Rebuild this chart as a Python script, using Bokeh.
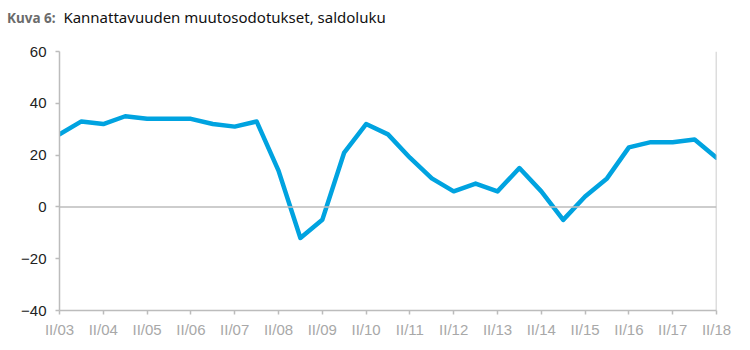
from bokeh.plotting import figure
from bokeh.models import Span, FixedTicker, Range1d, Div
from bokeh.layouts import column
from bokeh.embed import file_html
from bokeh.resources import INLINE

# Half-year periods from II/03 to II/18
periods = ["II/03", "I/04", "II/04", "I/05", "II/05", "I/06", "II/06", "I/07", "II/07", "I/08",
           "II/08", "I/09", "II/09", "I/10", "II/10", "I/11", "II/11", "I/12", "II/12", "I/13",
           "II/13", "I/14", "II/14", "I/15", "II/15", "I/16", "II/16", "I/17", "II/17", "I/18", "II/18"]
values = [28, 33, 32, 35, 34, 34, 34, 32, 31, 33,
          14, -12, -5, 21, 32, 28, 19, 11, 6, 9,
          6, 15, 6, -5, 4, 11, 23, 25, 25, 26, 19]
y_ticks = [-40, -20, 0, 20, 40, 60]
y_tick_labels = ["\u221240", "\u221220", "0", "20", "40", "60"]
title_prefix = "Kuva 6:"
title_text = "Kannattavuuden muutosodotukset, saldoluku"

xs = list(range(len(periods)))
x_tick_idx = [i for i, p in enumerate(periods) if p.startswith("II/")]

p = figure(width=750, height=316, output_backend="svg", toolbar_location=None,
           x_range=Range1d(0, len(periods) - 1), y_range=Range1d(-40, 60),
           min_border_left=59, min_border_right=34, min_border_top=17, min_border_bottom=40)
p.outline_line_color = None
p.xgrid.grid_line_color = None
p.ygrid.grid_line_color = None
p.background_fill_color = "white"
p.border_fill_color = "white"

axis_gray = "#bcbcbc"
for ax in (p.xaxis[0], p.yaxis[0]):
    ax.axis_line_color = axis_gray
    ax.axis_line_width = 1.5
    ax.major_tick_line_color = axis_gray
    ax.major_tick_line_width = 1.5
    ax.minor_tick_line_color = None
    ax.major_tick_in = 0
    ax.major_tick_out = 4
    ax.major_label_text_font = "Liberation Sans"
    ax.major_label_text_font_size = "15px"

p.xaxis.ticker = FixedTicker(ticks=x_tick_idx)
p.xaxis.major_label_overrides = {i: periods[i] for i in x_tick_idx}
p.xaxis.major_label_text_color = "#a8a8a8"
p.xaxis.major_label_standoff = 6

p.yaxis.ticker = FixedTicker(ticks=y_ticks)
p.yaxis.major_label_overrides = {t: l for t, l in zip(y_ticks, y_tick_labels)}
p.yaxis.major_label_text_color = "#222222"
p.yaxis.major_label_standoff = 9

p.add_layout(Span(location=0, dimension="width", line_color=axis_gray, line_width=1.5))
p.add_layout(Span(location=len(periods) - 1, dimension="height", line_color=axis_gray, line_width=1.5))

p.line(xs, values, line_color="#00a3e0", line_width=4.5, line_join="round", line_cap="round")

title = Div(
    text=(f'<span style="font-weight:bold;color:#6b6b6b;font-size:13.5px">{title_prefix}</span>'
          f'&nbsp; <span style="color:#111111">{title_text}</span>'),
    width=750, height=34, margin=(0, 0, 0, 0),
    styles={"font-family": "Noto Sans", "font-size": "15px", "padding-left": "7px",
            "padding-top": "7px", "line-height": "20px", "box-sizing": "border-box"})

layout = column(title, p, spacing=0)
open("out.html", "w").write(file_html(layout, INLINE))
